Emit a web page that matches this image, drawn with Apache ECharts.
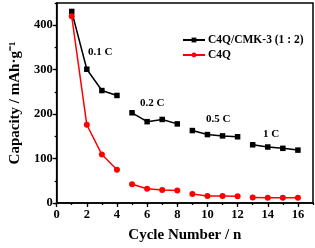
<!DOCTYPE html>
<html><head><meta charset="utf-8">
<script src="https://cdn.jsdelivr.net/npm/echarts@6/dist/echarts.min.js"></script>
<style>html,body{margin:0;padding:0;background:#fff}#c{width:315px;height:248px}</style>
</head><body><div id="c"></div>
<script>
var cycles = [1,2,3,4,5,6,7,8,9,10,11,12,13,14,15,16];
var compositeValues = [431,301,253,242,203,183,188,178,163,154,151,149,131,126,123,119];
var c4qValues = [420,176,109,75,42,32,29,28,20,16,16,15,12.5,12,12,12];
var seriesNames = ['C4Q/CMK-3 (1 : 2)','C4Q'];
var rateLabels = ['0.1 C','0.2 C','0.5 C','1 C'];
var yTickLabels = [0,100,200,300,400];
var xTickLabels = [0,2,4,6,8,10,12,14,16];

function segmented(vals){
  var out=[];
  for(var i=0;i<cycles.length;i++){
    if(i>0 && i%4===0) out.push([cycles[i]-0.5,'-']);
    out.push([cycles[i],vals[i]]);
  }
  return out;
}
var FF = '"Liberation Serif","Times New Roman",serif';
var chart = echarts.init(document.getElementById('c'));
var axisLine = {show:true,lineStyle:{color:'#000',width:1.5}};
chart.setOption({
  animation:false,
  grid:{left:51,right:2,top:3,bottom:42,show:true,borderColor:'#000',borderWidth:1.5},
  legend:{
    data:seriesNames,
    orient:'vertical',left:177,top:29,itemWidth:22,itemHeight:6,itemGap:3,
    textStyle:{fontFamily:FF,fontWeight:'bold',fontSize:11.5,color:'#000',padding:[0,0,0,-2]}
  },
  xAxis:[
    {type:'value',min:0,max:17,interval:1,axisLine:axisLine,
     axisTick:{show:true,length:2,lineStyle:{width:1.3,color:'#000'}},
     axisLabel:{show:false},splitLine:{show:false}},
    {type:'value',min:0,max:17,position:'bottom',axisLine:{show:false},
     axisTick:{show:true,length:4,customValues:xTickLabels,lineStyle:{width:1.3,color:'#000'}},
     axisLabel:{customValues:xTickLabels,fontFamily:FF,fontWeight:'bold',fontSize:12.5,color:'#000',margin:5},
     splitLine:{show:false},
     name:'Cycle Number / n',nameLocation:'middle',nameGap:25,
     nameTextStyle:{fontFamily:FF,fontWeight:'bold',fontSize:15,color:'#000'}}
  ],
  yAxis:[
    {type:'value',min:0,max:450,interval:50,axisLine:axisLine,
     axisTick:{show:true,length:2,lineStyle:{width:1.3,color:'#000'}},
     axisLabel:{show:false},splitLine:{show:false}},
    {type:'value',min:0,max:450,position:'left',axisLine:{show:false},
     axisTick:{show:true,length:4,customValues:yTickLabels,lineStyle:{width:1.3,color:'#000'}},
     axisLabel:{customValues:yTickLabels,fontFamily:FF,fontWeight:'bold',fontSize:12.5,color:'#000',margin:4},
     splitLine:{show:false},
     name:'Capacity / mAh·g⁻¹',nameLocation:'middle',nameGap:33,
     nameTextStyle:{fontFamily:FF,fontWeight:'bold',fontSize:15,color:'#000'}}
  ],
  series:[
    {name:seriesNames[0],type:'line',data:segmented(compositeValues),connectNulls:false,
     symbol:'rect',symbolSize:5.5,itemStyle:{color:'#000'},lineStyle:{color:'#000',width:1.5}},
    {name:seriesNames[1],type:'line',data:segmented(c4qValues),connectNulls:false,
     symbol:'circle',symbolSize:6,itemStyle:{color:'#f00'},lineStyle:{color:'#f00',width:1.5}}
  ],
  graphic:[
    {type:'text',left:88,top:47,style:{text:rateLabels[0],font:'bold 11px '+FF,fill:'#000'}},
    {type:'text',left:140,top:98,style:{text:rateLabels[1],font:'bold 11px '+FF,fill:'#000'}},
    {type:'text',left:206,top:114,style:{text:rateLabels[2],font:'bold 11px '+FF,fill:'#000'}},
    {type:'text',left:263,top:129,style:{text:rateLabels[3],font:'bold 11px '+FF,fill:'#000'}}
  ]
});
</script></body></html>
